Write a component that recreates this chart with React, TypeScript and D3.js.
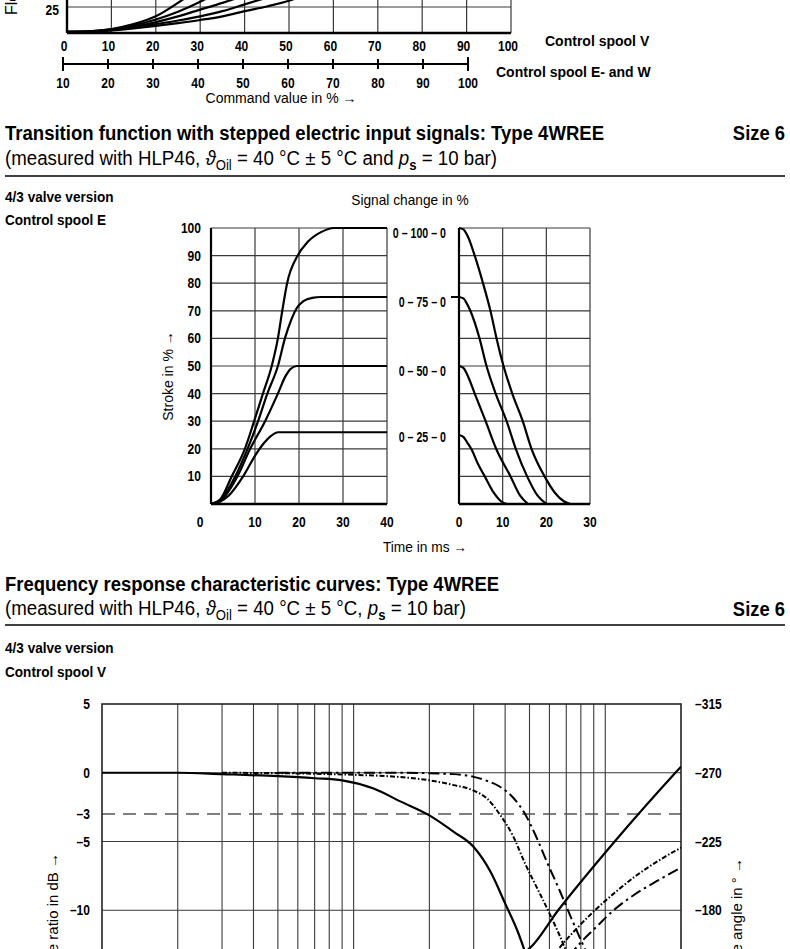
import * as d3 from "d3";
import type { ReactNode } from "react";

const FONT = "'Liberation Sans Narrow','Arial Narrow','Liberation Sans',Arial,sans-serif";

// ---------- flow characteristic (top, mostly cut off) ----------
const cmdTicksV = [0, 10, 20, 30, 40, 50, 60, 70, 80, 90, 100];
const cmdTicksEW = [10, 20, 30, 40, 50, 60, 70, 80, 90, 100];
const flowCurves: [number, number][][] = [
  [[0, 1], [5, 1.6], [10, 3.8], [15, 8.5], [20, 16], [25, 29], [28, 38]],
  [[0, 1], [5, 1.5], [10, 3.4], [15, 7.2], [20, 13], [25, 20.5], [30, 30], [33, 37]],
  [[0, 1], [5, 1.4], [10, 3], [15, 6], [20, 10.5], [25, 16], [30, 22.5], [35, 29], [40, 36]],
  [[0, 1], [5, 1.3], [10, 2.7], [15, 5.2], [20, 8.5], [25, 12], [30, 16], [35, 21], [40, 27.5], [45, 34]],
  [[0, 1], [5, 1.2], [10, 2.4], [15, 4.4], [20, 6.8], [25, 9.5], [30, 12.5], [35, 16], [40, 21], [45, 25.5], [50, 31], [52, 34]],
];

// ---------- transition function ----------
const strokeTicks = [10, 20, 30, 40, 50, 60, 70, 80, 90, 100];
const riseTicks = [0, 10, 20, 30, 40];
const fallTicks = [0, 10, 20, 30];
const signalLabels = ["0 – 100 – 0", "0 – 75 – 0", "0 – 50 – 0", "0 – 25 – 0"];
const signalLevels = [100, 75, 50, 26];
const riseCurves: [number, number][][] = [
  [[0, 0], [2, 1.5], [4.7, 10], [7.7, 20], [9.8, 30], [11.8, 40], [13.8, 50], [15.2, 60], [16.2, 70], [17.3, 80], [19.7, 90], [22, 95], [25, 98.5], [28, 100], [40, 100]],
  [[0, 0], [2, 1.2], [5.5, 10], [8.3, 20], [10.7, 30], [12.8, 40], [15.2, 50], [16.8, 60], [18.3, 67], [19.5, 71], [21, 73.5], [23, 74.7], [25, 75], [40, 75]],
  [[0, 0], [2, 1], [6, 10], [8.9, 20], [12.3, 30], [15.2, 40], [17, 46.5], [18, 48.8], [19.5, 50], [40, 50]],
  [[0, 0], [2, 0.8], [4, 3], [7.3, 10], [10.2, 18], [12, 22], [13.5, 24.5], [15.3, 26], [40, 26]],
];
const fallCurves: [number, number][][] = [
  [[0, 100], [1, 99.5], [2, 97], [3.6, 90], [5.5, 80], [7.2, 70], [8.6, 60], [10.2, 50], [12.2, 40], [14.6, 30], [16.6, 20], [19.6, 10], [22, 4], [24, 1], [25.5, 0]],
  [[0, 75], [1, 74.5], [2, 72], [2.6, 70], [4.7, 60], [6.3, 50], [8.4, 40], [10.9, 30], [13, 20], [15.6, 10], [18, 3], [20, 0]],
  [[0, 50], [1, 49.3], [2, 46.5], [3.6, 40], [6.1, 30], [8.5, 20], [11.8, 10], [14, 3], [15.8, 0]],
  [[0, 25], [1, 24.3], [2, 22], [2.8, 20], [4.5, 14], [5.9, 10], [8, 4], [9.6, 1], [11, 0]],
];

// ---------- frequency response ----------
const dbGrid = [0, -5, -10];
const dbLabels = [5, 0, -3, -5, -10];
const phaseLabels = [-315, -270, -225, -180];
const freqGrid = [2, 3, 4, 5, 6, 7, 8, 9, 10, 20, 30, 40, 50, 60, 70, 80, 90, 100];
const ampSolid: [number, number][] = [[1, 0], [2, 0], [3, -0.1], [5, -0.25], [7, -0.4], [9, -0.55], [12, -1.15], [15.4, -2.1], [20, -3.1], [25, -4.3], [30, -5.4], [35, -7.2], [40, -9.5], [45, -11.6], [50, -14]];
const ampShort: [number, number][] = [[3, 0], [6, -0.05], [10, -0.15], [15, -0.3], [20, -0.55], [25, -0.9], [30, -1.3], [34, -1.9], [38, -3], [43, -4.6], [48, -6.6], [55, -8.8], [61, -10.5], [70, -13], [75, -14.5]];
const ampLong: [number, number][] = [[5, 0], [15, 0], [25, -0.1], [30, -0.3], [34, -0.6], [38, -1], [43, -1.8], [48, -3], [53, -4.6], [59, -6.6], [66, -8.6], [73, -10.5], [82, -12.6], [90, -14.2]];
const phaseSolid: [number, number][] = [[45, -150], [50, -155], [65, -180], [109, -225], [190, -270], [200, -274]];
const phaseShort: [number, number][] = [[62, -150], [67, -157], [78, -169], [91, -180], [110, -192], [131, -202], [165, -213], [200, -221]];
const phaseLong: [number, number][] = [[72, -150], [79, -158], [92, -169], [108, -180], [130, -190], [160, -199], [200, -208]];

const GRID = "#3a3a3a";

// condensed label (the page font is a condensed grotesque)
function T({ x, y, size = 14, bold = true, anchor = "start", sx = 0.86, children }: {
  x: number; y: number; size?: number; bold?: boolean; anchor?: string; sx?: number; children: ReactNode;
}) {
  return (
    <text transform={`translate(${x},${y}) scale(${sx},1)`} fontSize={size} fontFamily={FONT}
      fontWeight={bold ? 700 : 400} textAnchor={anchor}>{children}</text>
  );
}

export default function App() {
  // top chart scales
  const xV = d3.scaleLinear().domain([0, 100]).range([67, 511]);
  const xEW = d3.scaleLinear().domain([10, 100]).range([63, 468]);
  const yFlow = d3.scaleLinear().domain([0, 25]).range([33, 7]);
  const flowLine = d3.line<[number, number]>().x(d => xV(d[0])).y(d => yFlow(d[1])).curve(d3.curveMonotoneX);

  // step response scales
  const xRise = d3.scaleLinear().domain([0, 40]).range([211, 387]);
  const xFall = d3.scaleLinear().domain([0, 30]).range([459, 590]);
  const yS = d3.scaleLinear().domain([0, 100]).range([504, 228]);
  const riseLine = d3.line<[number, number]>().x(d => xRise(d[0])).y(d => yS(d[1])).curve(d3.curveMonotoneX);
  const fallLine = d3.line<[number, number]>().x(d => xFall(d[0])).y(d => yS(d[1])).curve(d3.curveMonotoneX);

  // bode scales
  const xF = d3.scaleLog().domain([1, 200]).range([102, 681]);
  const yDb = d3.scaleLinear().domain([5, -15]).range([704, 979]);
  const yPh = d3.scaleLinear().domain([-315, -135]).range([704, 979]);
  const ampLine = d3.line<[number, number]>().x(d => xF(d[0])).y(d => yDb(d[1])).curve(d3.curveMonotoneX);
  const phLine = d3.line<[number, number]>().x(d => xF(d[0])).y(d => yPh(d[1])).curve(d3.curveMonotoneX);

  return (
    <svg width={790} height={949} style={{ position: "absolute", left: 0, top: 0, background: "#fff" }}>
      <defs>
        <clipPath id="clipFlow"><rect x={xV(0)} y={-20} width={xV(100) - xV(0)} height={yFlow(0) + 20} /></clipPath>
        <clipPath id="clipBode"><rect x={xF(1)} y={yDb(5)} width={xF(200) - xF(1)} height={yDb(-15) - yDb(5)} /></clipPath>
      </defs>

      {/* ===== top flow chart ===== */}
      <text transform={`translate(17,15) rotate(-90)`} fontSize={16} fontFamily={FONT}>Flow in % →</text>
      {cmdTicksV.slice(1).map(t => (
        <line key={t} x1={xV(t)} x2={xV(t)} y1={-2} y2={yFlow(0)} stroke={GRID} strokeWidth={1.2} />
      ))}
      <line x1={xV(0)} x2={xV(100)} y1={yFlow(25)} y2={yFlow(25)} stroke={GRID} strokeWidth={1.2} />
      <g clipPath="url(#clipFlow)">
        {flowCurves.map((c, i) => (
          <path key={i} d={flowLine(c) || ""} fill="none" stroke="#000" strokeWidth={2.2} />
        ))}
      </g>
      <line x1={xV(0)} x2={xV(100)} y1={yFlow(0)} y2={yFlow(0)} stroke="#000" strokeWidth={2.4} />
      <line x1={xV(0)} x2={xV(0)} y1={-2} y2={yFlow(0)} stroke="#000" strokeWidth={2.4} />
      <T x={59} y={yFlow(25) + 8} anchor="end">25</T>
      {cmdTicksV.map(t => (
        <T key={t} x={xV(t) - 3} y={51} anchor="middle">{t}</T>
      ))}
      <line x1={xEW(10)} x2={xEW(100)} y1={64} y2={64} stroke="#000" strokeWidth={2.2} />
      {cmdTicksEW.map((t, i) => {
        const h = i === 0 || i === cmdTicksEW.length - 1 ? 7 : 5;
        return <line key={t} x1={xEW(t)} x2={xEW(t)} y1={64 - h} y2={64 + h} stroke="#000" strokeWidth={2} />;
      })}
      {cmdTicksEW.map(t => (
        <T key={t} x={xEW(t)} y={88} anchor="middle">{t}</T>
      ))}
      <T x={281} y={103} bold={false} anchor="middle" sx={1}>Command value in % →</T>
      <T x={545} y={46} sx={1}>Control spool V</T>
      <T x={496} y={77} sx={1}>Control spool E- and W</T>

      {/* ===== transition function ===== */}
      <text x={5} y={140} fontSize={20} textLength={599} lengthAdjust="spacingAndGlyphs" fontFamily={FONT} fontWeight={700}>
        Transition function with stepped electric input signals: Type 4WREE
      </text>
      <T x={785} y={140} size={20} anchor="end" sx={0.92}>Size 6</T>
      <text x={5} y={165} fontSize={20} textLength={492} lengthAdjust="spacingAndGlyphs" fontFamily={FONT}>
        (measured with HLP46, <tspan fontStyle="italic">ϑ</tspan>
        <tspan dy={5} fontSize={14}>Oil</tspan>
        <tspan dy={-5}> = 40 °C ± 5 °C and </tspan>
        <tspan fontStyle="italic">p</tspan>
        <tspan dy={5} fontSize={14} fontWeight={700}>s</tspan>
        <tspan dy={-5}> = 10 bar)</tspan>
      </text>
      <line x1={5} x2={785} y1={176} y2={176} stroke="#000" strokeWidth={1.5} />
      <T x={5} y={202} sx={0.97}>4/3 valve version</T>
      <T x={5} y={225} sx={0.97}>Control spool E</T>
      <T x={410} y={205} bold={false} anchor="middle" sx={0.98}>Signal change in %</T>

      {/* rise plot */}
      {strokeTicks.map(t => (
        <line key={t} x1={xRise(0)} x2={xRise(40)} y1={yS(t)} y2={yS(t)} stroke={GRID} strokeWidth={1.2} />
      ))}
      {riseTicks.slice(1).map(t => (
        <line key={t} x1={xRise(t)} x2={xRise(t)} y1={yS(100)} y2={yS(0)} stroke={GRID} strokeWidth={1.2} />
      ))}
      {riseCurves.map((c, i) => (
        <path key={i} d={riseLine(c) || ""} fill="none" stroke="#000" strokeWidth={2.2} />
      ))}
      <line x1={xRise(0)} x2={xRise(0)} y1={yS(100)} y2={yS(0)} stroke="#000" strokeWidth={2.2} />
      <line x1={xRise(0)} x2={xRise(40)} y1={yS(0)} y2={yS(0)} stroke="#000" strokeWidth={2.4} />
      {strokeTicks.map(t => (
        <T key={t} x={201} y={yS(t) + 5} anchor="end">{t}</T>
      ))}
      {riseTicks.map(t => (
        <T key={t} x={t === 0 ? xRise(t) - 11 : xRise(t)} y={527} anchor="middle">{t}</T>
      ))}
      <text transform={`translate(173,376) rotate(-90)`} fontSize={14} textAnchor="middle" fontFamily={FONT}>Stroke in % →</text>

      {/* fall plot */}
      {strokeTicks.map(t => (
        <line key={t} x1={xFall(0)} x2={xFall(30)} y1={yS(t)} y2={yS(t)} stroke={GRID} strokeWidth={1.2} />
      ))}
      {fallTicks.slice(1).map(t => (
        <line key={t} x1={xFall(t)} x2={xFall(t)} y1={yS(100)} y2={yS(0)} stroke={GRID} strokeWidth={1.2} />
      ))}
      {fallCurves.map((c, i) => (
        <path key={i} d={fallLine(c) || ""} fill="none" stroke="#000" strokeWidth={2.2} />
      ))}
      <line x1={xFall(0)} x2={xFall(0)} y1={yS(100)} y2={yS(0)} stroke="#000" strokeWidth={2.2} />
      <line x1={xFall(0)} x2={xFall(30)} y1={yS(0)} y2={yS(0)} stroke="#000" strokeWidth={2.4} />
      {fallTicks.map(t => (
        <T key={t} x={xFall(t)} y={527} anchor="middle">{t}</T>
      ))}
      {signalLabels.map((s, i) => (
        <T key={s} x={446} y={yS(signalLevels[i]) + 10} size={14} anchor="end" sx={0.76}>{s}</T>
      ))}
      <line x1={451} x2={xFall(0)} y1={yS(75)} y2={yS(75)} stroke="#000" strokeWidth={2} />
      <T x={425} y={552} bold={false} anchor="middle" sx={0.98}>Time in ms →</T>

      {/* ===== frequency response ===== */}
      <text x={5} y={591} fontSize={20} textLength={494} lengthAdjust="spacingAndGlyphs" fontFamily={FONT} fontWeight={700}>
        Frequency response characteristic curves: Type 4WREE
      </text>
      <text x={5} y={615} fontSize={20} textLength={461} lengthAdjust="spacingAndGlyphs" fontFamily={FONT}>
        (measured with HLP46, <tspan fontStyle="italic">ϑ</tspan>
        <tspan dy={5} fontSize={14}>Oil</tspan>
        <tspan dy={-5}> = 40 °C ± 5 °C, </tspan>
        <tspan fontStyle="italic">p</tspan>
        <tspan dy={5} fontSize={14} fontWeight={700}>s</tspan>
        <tspan dy={-5}> = 10 bar)</tspan>
      </text>
      <T x={785} y={616} size={20} anchor="end" sx={0.92}>Size 6</T>
      <line x1={5} x2={785} y1={625} y2={625} stroke="#000" strokeWidth={1.5} />
      <T x={5} y={653} sx={0.97}>4/3 valve version</T>
      <T x={5} y={677} sx={0.97}>Control spool V</T>

      {freqGrid.map(f => (
        <line key={f} x1={xF(f)} x2={xF(f)} y1={yDb(5)} y2={yDb(-15)} stroke={GRID} strokeWidth={1.1} />
      ))}
      {dbGrid.map(v => (
        <line key={v} x1={xF(1)} x2={xF(200)} y1={yDb(v)} y2={yDb(v)} stroke={GRID} strokeWidth={1.1} />
      ))}
      <line x1={xF(1)} x2={xF(200)} y1={yDb(-3)} y2={yDb(-3)} stroke="#555" strokeWidth={1.3} strokeDasharray="13,8" />
      <rect x={xF(1)} y={yDb(5)} width={xF(200) - xF(1)} height={yDb(-15) - yDb(5)} fill="none" stroke="#222" strokeWidth={1.6} />
      <g clipPath="url(#clipBode)" fill="none" stroke="#000">
        <path d={ampLine(ampSolid) || ""} strokeWidth={2.2} />
        <path d={ampLine(ampShort) || ""} strokeWidth={2} strokeDasharray="5,2,1.5,2" />
        <path d={ampLine(ampLong) || ""} strokeWidth={2} strokeDasharray="11,4,2.5,4" />
        <path d={phLine(phaseSolid) || ""} strokeWidth={2.2} />
        <path d={phLine(phaseShort) || ""} strokeWidth={2} strokeDasharray="5,2,1.5,2" />
        <path d={phLine(phaseLong) || ""} strokeWidth={2} strokeDasharray="11,4,2.5,4" />
      </g>
      {dbLabels.map(v => (
        <T key={v} x={90} y={yDb(v) + 5} anchor="end">{v < 0 ? `–${-v}` : v}</T>
      ))}
      {phaseLabels.map(v => (
        <T key={v} x={695} y={yPh(v) + 5}>{`–${-v}`}</T>
      ))}
      <text transform={`translate(58,853) rotate(-90)`} fontSize={15} textAnchor="end" fontFamily={FONT}>Amplitude ratio in dB →</text>
      <text transform={`translate(742,858) rotate(-90)`} fontSize={15} textAnchor="end" fontFamily={FONT}>Phase angle in ° →</text>
    </svg>
  );
}
